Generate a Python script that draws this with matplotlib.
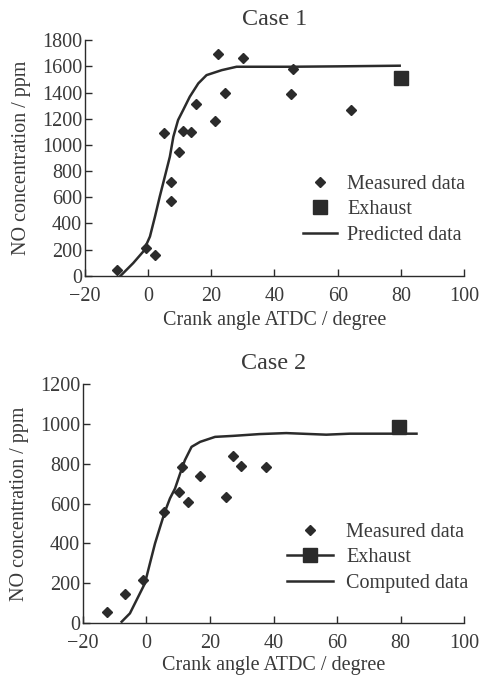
import matplotlib
matplotlib.use("Agg")
import matplotlib.pyplot as plt

# Case 1 data
c1_meas_x = [-9.8, -0.8, 2.1, 5.1, 7.4, 7.4, 9.7, 10.9, 13.7, 15.3, 21.1, 22.2, 24.3, 29.9, 45.1, 45.9, 64.1]
c1_meas_y = [43, 211, 160, 1089, 713, 569, 947, 1107, 1097, 1315, 1186, 1694, 1394, 1663, 1392, 1577, 1265]
c1_exh_x = [80]
c1_exh_y = [1514]
c1_pred_x = [-8.7, -4.7, -1.5, 0.6, 2.2, 3.7, 5.3, 6.9, 8.0, 9.5, 11.1, 13.2, 15.9, 18.5, 23.3, 28.0, 45.0, 60.0, 79.6]
c1_pred_y = [0, 97, 186, 300, 453, 605, 757, 910, 1062, 1190, 1266, 1368, 1470, 1533, 1571, 1597, 1597, 1600, 1605]

# Case 2 data
c2_meas_x = [-12.3, -6.6, -1.1, 5.5, 10.2, 11.3, 13.1, 17.0, 25.1, 27.2, 29.9, 37.7]
c2_meas_y = [54, 146, 218, 556, 658, 783, 609, 738, 631, 840, 790, 783]
c2_exh_x = [79.5]
c2_exh_y = [984]
c2_comp_x = [-7.8, -5.2, -2.6, -0.5, 1.1, 2.7, 4.3, 5.8, 7.4, 9.0, 10.6, 12.1, 14.2, 16.9, 21.6, 27.3, 35.6, 44.0, 56.6, 64.0, 85.0]
c2_comp_y = [7, 49, 132, 199, 300, 400, 483, 559, 626, 676, 751, 818, 885, 910, 935, 940, 949, 954, 946, 951, 951]

plt.rcParams['font.family'] = ['Liberation Serif', 'DejaVu Serif']
plt.rcParams['font.size'] = 14.5
plt.rcParams['axes.unicode_minus'] = True

ink = '#2b2b2b'
txt = '#3a3a3a'

fig = plt.figure(figsize=(4.82, 6.81), dpi=100)
ax1 = fig.add_axes([0.176, 0.595, 0.787, 0.346])
ax2 = fig.add_axes([0.172, 0.085, 0.791, 0.351])


def style(ax, ylim, yticks, title, xpad):
    ax.set_xlim(-20, 100)
    ax.set_ylim(*ylim)
    ax.set_xticks(range(-20, 101, 20))
    ax.set_yticks(yticks)
    for s in ['top', 'right']:
        ax.spines[s].set_visible(False)
    for s in ['left', 'bottom']:
        ax.spines[s].set_color(ink)
        ax.spines[s].set_linewidth(1.0)
    ax.tick_params(direction='in', length=5, width=1.0, colors=ink, labelcolor=txt)
    ax.tick_params(axis='x', pad=8)
    ax.tick_params(axis='y', pad=2)
    ax.set_xlabel('Crank angle ATDC / degree', color=txt, labelpad=xpad)
    ax.set_ylabel('NO concentration / ppm', color=txt, labelpad=8)
    ax.set_title(title, color=txt, pad=11)


ax1.plot(c1_meas_x, c1_meas_y, ls='none', marker='D', ms=5, color=ink, label='Measured data')
ax1.plot(c1_exh_x, c1_exh_y, ls='none', marker='s', ms=10, color=ink, label='Exhaust', clip_on=False)
ax1.plot(c1_pred_x, c1_pred_y, '-', lw=1.8, color=ink, label='Predicted data')
style(ax1, (0, 1800), range(0, 1801, 200), 'Case 1', 4)
ax1.legend(loc='upper left', bbox_to_anchor=(0.575, 0.427), frameon=False, borderpad=0,
           handlelength=1.7, handletextpad=0.5, labelspacing=0.3, borderaxespad=0,
           labelcolor=txt)

ax2.plot(c2_meas_x, c2_meas_y, ls='none', marker='D', ms=5, color=ink, label='Measured data')
ax2.plot(c2_exh_x, c2_exh_y, ls='-', lw=1.8, marker='s', ms=10, color=ink, label='Exhaust', clip_on=False)
ax2.plot(c2_comp_x, c2_comp_y, '-', lw=1.8, color=ink, label='Computed data')
style(ax2, (0, 1200), range(0, 1201, 200), 'Case 2', 2)
ax2.legend(loc='upper left', bbox_to_anchor=(0.535, 0.418), frameon=False, borderpad=0,
           handlelength=2.3, handletextpad=0.65, labelspacing=0.3, borderaxespad=0,
           labelcolor=txt)

fig.savefig('out.png', dpi=100)
